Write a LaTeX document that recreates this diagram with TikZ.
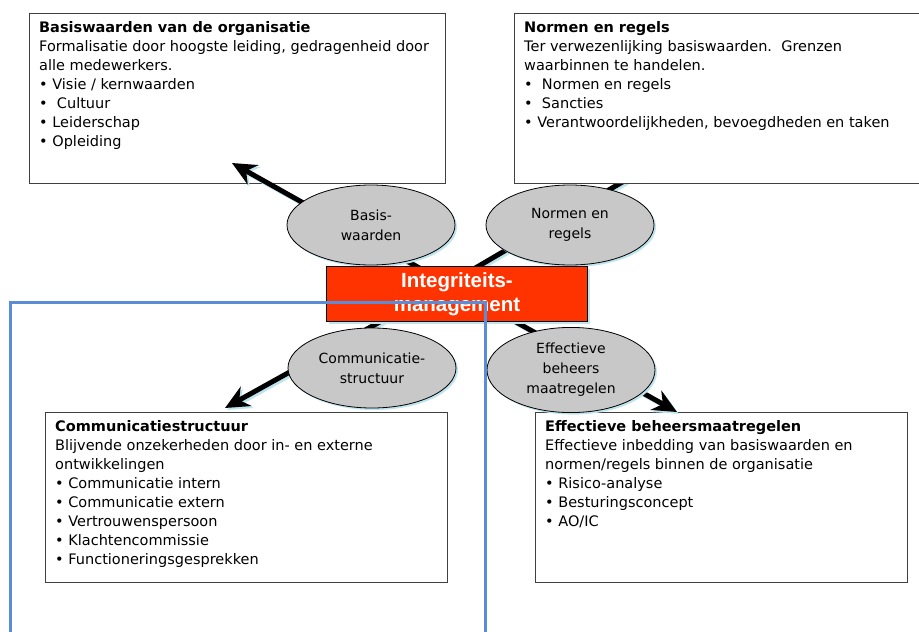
\documentclass[tikz,border=0pt]{standalone}
\usepackage{fontspec}
\setmainfont{DejaVu Sans}
\newfontfamily\arialfont{Liberation Sans}
\usetikzlibrary{shapes.geometric,shadows,arrows.meta}

\definecolor{mgmtred}{RGB}{255,51,0}
\definecolor{shadowblue}{RGB}{190,228,238}
\definecolor{framblue}{RGB}{91,141,214}
\definecolor{bubblegray}{RGB}{200,200,200}

\tikzset{
  infobox/.style={draw=black!75, line width=0.8pt, fill=white, inner sep=0pt, anchor=north west},
  boxtext/.style={anchor=north west, align=left, inner sep=0pt, font=\fontsize{14.5}{19}\selectfont},
  bubble/.style={ellipse, draw, line width=0.8pt, fill=bubblegray, minimum width=168pt, minimum height=80pt,
    align=center, font=\fontsize{14}{20}\selectfont,
    drop shadow={shadow xshift=2pt, shadow yshift=-2pt, fill=shadowblue, opacity=1}},
  bigarrow/.style={line width=5pt, -{Stealth[length=24pt,width=22pt]}},
  arrowshadow/.style={bigarrow, draw=shadowblue, transform canvas={shift={(2pt,-2pt)}}},
}

\begin{document}
\begin{tikzpicture}[x=1pt, y=-1pt]
    \useasboundingbox (0,0) rectangle (919,632);

    % Centre of the cross and arrow tips
    \coordinate (hub) at (448,284);
    \coordinate (tipBasis) at (232,163);
    \coordinate (tipNormen) at (660,160);
    \coordinate (tipComm) at (225,408);
    \coordinate (tipEff) at (677,412);

    % Draw boxes under the arrows
    \node[infobox, minimum width=416pt, minimum height=170pt] (basisbox) at (29,13) {};
    \node[infobox, minimum width=402pt, minimum height=170pt] (commbox) at (45,412) {};
    \node[infobox, minimum width=372pt, minimum height=170pt] (effbox) at (535,412) {};

    % Box texts
    \node[boxtext] (basistext) at (39,21) {\textbf{Basiswaarden van de organisatie}\\
      Formalisatie door hoogste leiding, gedragenheid door\\
      alle medewerkers.\\
      • Visie / kernwaarden\\
      •\ \ Cultuur\\
      • Leiderschap\\
      • Opleiding};
    \node[boxtext] (commtext) at (55,420) {\textbf{Communicatiestructuur}\\
      Blijvende onzekerheden door in- en externe\\
      ontwikkelingen\\
      • Communicatie intern\\
      • Communicatie extern\\
      • Vertrouwenspersoon\\
      • Klachtencommissie\\
      • Functioneringsgesprekken};
    \node[boxtext] (efftext) at (545,420) {\textbf{Effectieve beheersmaatregelen}\\
      Effectieve inbedding van basiswaarden en\\
      normen/regels binnen de organisatie\\
      • Risico-analyse\\
      • Besturingsconcept\\
      • AO/IC};

    % Draw arrows (shadow first)
    \draw[arrowshadow] (hub) -- (tipBasis);
    \draw[arrowshadow] (hub) -- (tipNormen);
    \draw[arrowshadow] (hub) -- (tipComm);
    \draw[arrowshadow] (hub) -- (tipEff);
    \draw[bigarrow] (hub) -- (tipBasis);
    \draw[bigarrow] (hub) -- (tipNormen);
    \draw[bigarrow] (hub) -- (tipComm);
    \draw[bigarrow] (hub) -- (tipEff);

    % Box that covers its arrow
    \node[infobox, minimum width=410pt, minimum height=170pt] (normenbox) at (514,13) {};
    \node[boxtext] (normentext) at (524,21) {\textbf{Normen en regels}\\
      Ter verwezenlijking basiswaarden.\ \ Grenzen\\
      waarbinnen te handelen.\\
      •\ \ Normen en regels\\
      •\ \ Sancties\\
      • Verantwoordelijkheden, bevoegdheden en taken};

    % Draw ellipses
    \node[bubble] (basis) at (371,225) {Basis-\\waarden};
    \node[bubble] (normen) at (570,225) {Normen en\\regels};
    \node[bubble] (comm) at (372,368) {Communicatie-\\structuur};
    \node[bubble] (eff) at (571,370) {Effectieve\\beheers\\maatregelen};

    % Central node
    \node[draw, line width=0.8pt, fill=mgmtred, minimum width=261pt, minimum height=55pt,
      text=white, align=center, font=\arialfont\bfseries\fontsize{20.5}{24}\selectfont,
      drop shadow={shadow xshift=2pt, shadow yshift=-2pt, fill=shadowblue, opacity=1}]
      (mgmt) at (457,294) {Integriteits-\\management};

    % Blue frame on top
    \draw[framblue, line width=3pt] (10,640) -- (10,302) -- (485,302) -- (485,640);
\end{tikzpicture}
\end{document}
